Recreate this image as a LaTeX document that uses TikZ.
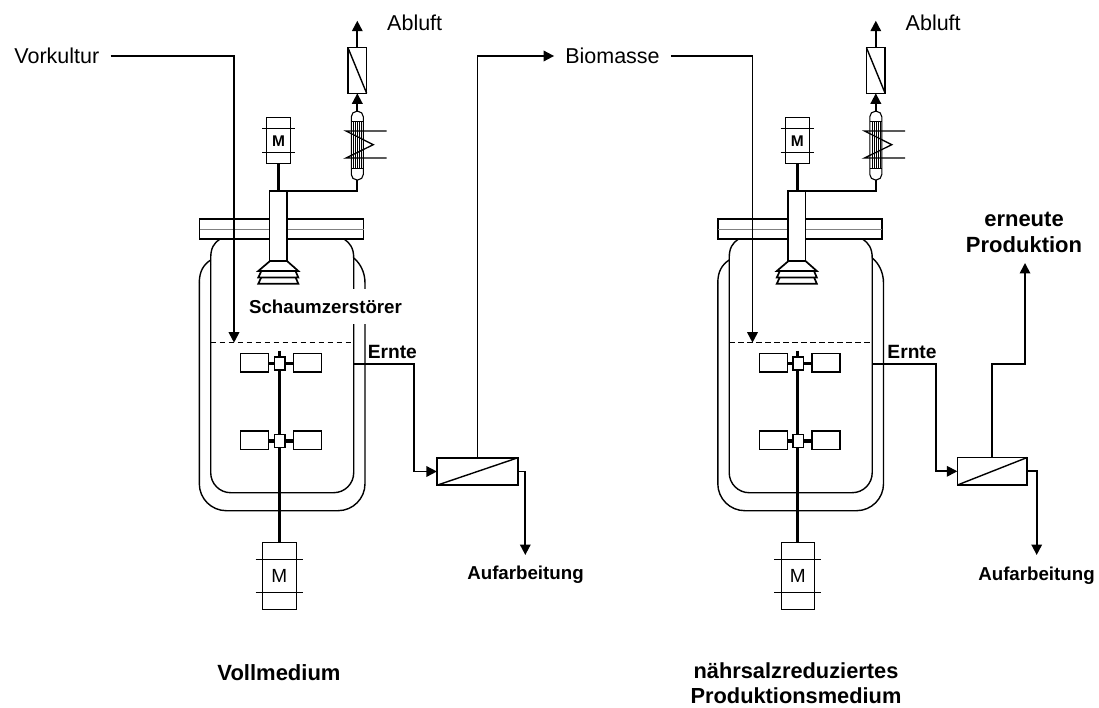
\documentclass[tikz,border=0pt]{standalone}
\usepackage{fontspec}
\setmainfont{Liberation Sans}
\usetikzlibrary{arrows.meta}

\begin{document}
\begin{tikzpicture}[
    x=1pt, y=-1pt,
    wall/.style={line width=1.4pt},
    pipe/.style={line width=1.8pt},
    arrow/.style={pipe, -{Triangle[length=10.5pt, width=10.5pt]}},
    shaft/.style={line width=3.2pt},
    box/.style={draw, wall, fill=white, rectangle, inner sep=0pt, outer sep=0pt},
    motorbox/.style={box, line width=1pt, minimum width=#1},
    filterbox/.style={box, line width=1.6pt, minimum width=81pt, minimum height=27.5pt},
    paddle/.style={box, minimum width=28pt, minimum height=18.5pt},
    hub/.style={box, minimum width=10.5pt, minimum height=13pt},
    lbl/.style={font=\fontsize{21.5}{26}\selectfont, align=center, inner ysep=3pt, inner xsep=11pt},
    blbl/.style={font=\fontsize{18.7}{24}\selectfont\bfseries, inner sep=2pt},
    biglbl/.style={font=\fontsize{22}{26}\selectfont\bfseries, align=center, inner sep=0pt}
]
\useasboundingbox (0,0) rectangle (1099,708);

% Reactors
\foreach \r/\dx in {L/0, R/518.5} {
\begin{scope}[shift={(\dx,0)}]
    % Flange
    \node[box, minimum width=164pt, minimum height=20pt] (flange\r) at (281.6,229) {};
    \draw[line width=0.6pt, gray] (flange\r.west) -- (flange\r.east);

    % Vessel, inner wall
    \draw[wall, rounded corners=20pt] (353.7,265) -- (353.7,492.7) -- (210.7,492.7) -- (210.7,265);
    \draw[wall] (210.7,265) -- (210.7,258) .. controls (210.7,248) and (214,243) .. (220,239);
    \draw[wall] (344,239) .. controls (350,243) and (353.7,248) .. (353.7,258) -- (353.7,265);

    % Vessel, jacket
    \draw[wall, rounded corners=27pt] (365,283) -- (365,510.7) -- (199.3,510.7) -- (199.3,283);
    \draw[wall] (199.3,283) .. controls (199.3,272) and (203,265) .. (210.7,260);
    \draw[wall] (353.7,258) .. controls (360,263) and (365,272) .. (365,283);

    % Foam breaker
    \foreach \yy/\xx in {283.7/263, 277.5/263, 271/270} {
        \draw[line width=1.7pt, fill=white] (\xx,\yy-10) -- (258.3,\yy) -- (298.3,\yy) -- (557-\xx,\yy-10) -- cycle;
    }
    \node[box, minimum width=17.5pt, minimum height=70pt] (neck\r) at (278.4,226) {};

    % Liquid level
    \draw[wall, dash pattern=on 5.5pt off 3.5pt] (210.7,342.7) -- (353.7,342.7);

    % Motor on top
    \node[motorbox=24pt, minimum height=46.7pt] (topmotor\r) at (278.7,140.4) {};
    \node[font=\fontsize{15.5}{17}\selectfont\bfseries, inner sep=0pt] (topm\r) at (278.7,141) {M};
    \draw[line width=1pt] (262,128.3) -- (295,128.3) (262,152.3) -- (295,152.3);
    \draw[shaft] (topmotor\r.south) -- (topmotor\r.south |- neck\r.north);

    % Condenser
    \node[box, line width=1.1pt, rounded corners=5.5pt, minimum width=12pt, minimum height=68.7pt] (cond\r) at (357.3,145.6) {};
    \draw[line width=1pt] (351.3,121.7) -- (363.3,121.7) (351.3,168.3) -- (363.3,168.3);
    \foreach \xx in {353.3,355.3,357.3,359.3,361.3} {
        \draw[line width=0.6pt] (\xx,121.7) -- (\xx,168.3);
    }
    \draw[line width=1.3pt] (386.7,131) -- (346,131) -- (373.3,144.7) -- (346,158) -- (386.7,158);
    \draw[pipe] (topmotor\r.south |- neck\r.north) -| (cond\r.south);

    % Exhaust filter
    \node[box, line width=1.5pt, minimum width=18.7pt, minimum height=45.6pt] (exfilter\r) at (357.3,70.5) {};
    \draw[wall] (exfilter\r.north west) -- (exfilter\r.south east);
    \draw[arrow] (cond\r.north) -- (exfilter\r.south);
    \coordinate (exhaust\r) at (357.3,20.7);
    \draw[arrow] (exfilter\r.north) -- (exhaust\r);
    \node[lbl, anchor=west] (abluft\r) at (376,23) {Abluft};

    % Stirrer
    \node[motorbox=33.5pt, minimum height=67.4pt] (motor\r) at (279.3,576) {};
    \node[font=\fontsize{19}{21}\selectfont, inner sep=0pt] (motorm\r) at (279.3,576) {M};
    \draw[line width=1pt] (255.7,559) -- (302.7,559) (255.7,592.3) -- (302.7,592.3);
    \coordinate (shafttop\r) at (279.3,350.7);
    \draw[shaft] (shafttop\r) -- (motor\r.north);
    \foreach \n/\yy in {a/363.5, b/441} {
        \draw[shaft] (254,\yy) -- (300,\yy);
        \node[paddle] (left\r\n) at (254.7,\yy-0.8) {};
        \node[paddle] (right\r\n) at (307.3,\yy-0.8) {};
        \node[hub] (hub\r\n) at (279.6,\yy) {};
    }
\end{scope}
}

% Feed and harvest nodes
\node[lbl, anchor=east] (vorkultur) at (110.5,56) {Vorkultur};
\node[lbl] (biomasse) at (612.5,56) {Biomasse};
\coordinate (feedL) at (234,342.7);
\coordinate (feedR) at (752.5,342.7);
\coordinate (harvestL) at (353.7,364.3);
\coordinate (harvestR) at (872.2,364.3);

% Cell separators
\node[filterbox] (filterL) at (477.4,471.5) {};
\node[filterbox, minimum width=69.7pt] (filterR) at (992.2,471.3) {};
\foreach \r in {L,R} {
    \draw[wall] (filter\r.south west) -- (filter\r.north east);
}
\coordinate (workupL) at (525.3,555);
\coordinate (workupR) at (1036.7,555);
\coordinate (bendR) at (992.2,363.7);
\coordinate (returnR) at (1025,263);

% Streams
\draw[arrow] (vorkultur.east) -| (feedL);
\draw[arrow] (biomasse.east) -| (feedR);
\draw[arrow] (filterL.north) |- (biomasse.west);
\draw[arrow] (harvestL) -- (414,364.3) |- (filterL.west);
\draw[arrow] (harvestR) -- (935.7,364.3) |- (filterR.west);
\draw[arrow] (filterL.east) -| (workupL);
\draw[arrow] (filterR.east) -| (workupR);
\draw[arrow] (filterR.north) -- (bendR) -| (returnR);

% Labels
\node[blbl, fill=white, minimum height=35pt] (schaum) at (325.5,306.5) {Schaumzerstörer};
\node[blbl, font=\fontsize{19.2}{24}\selectfont\bfseries] (ernteL) at (392.3,352) {Ernte};
\node[blbl, font=\fontsize{19.2}{24}\selectfont\bfseries] (ernteR) at (912,352) {Ernte};
\node[blbl] (aufL) at (525.5,575) {Aufarbeitung};
\node[blbl] (aufR) at (1036.5,576) {Aufarbeitung};
\node[biglbl] (erneut) at (1024,232.5) {erneute\\Produktion};
\node[biglbl] (voll) at (279,673) {Vollmedium};
\node[biglbl, font=\fontsize{21.8}{25}\selectfont\bfseries] (naehr) at (796,683.5) {nährsalzreduziertes\\Produktionsmedium};

\end{tikzpicture}
\end{document}
